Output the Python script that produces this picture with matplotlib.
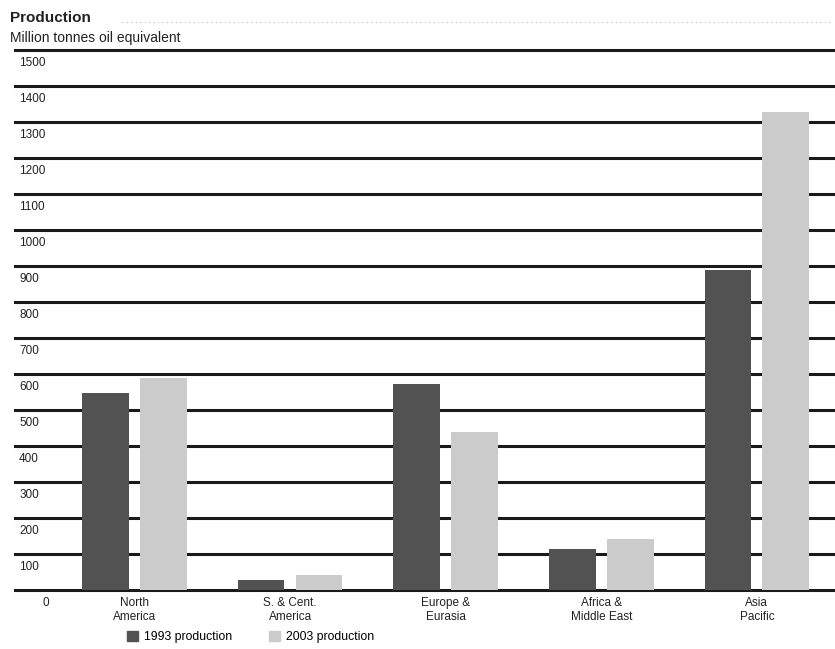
import matplotlib.pyplot as plt
from matplotlib.patches import Patch

plt.rcParams['font.family'] = ['Liberation Sans', 'DejaVu Sans']

# data (million tonnes oil equivalent)
regions = ["North\nAmerica", "S. & Cent.\nAmerica", "Europe &\nEurasia",
           "Africa &\nMiddle East", "Asia\nPacific"]
prod_1993 = [547, 28, 572, 114, 890]
prod_2003 = [589, 42, 439, 142, 1328]
yticks = list(range(0, 1600, 100))

dark = "#525252"
light = "#cbcbcb"

fig = plt.figure(figsize=(8.35, 6.49), dpi=100)
W, H = 835, 649
# axes: x from 15px to 835px, y from 590px (0) to 50px (1500)
ax = fig.add_axes([15 / W, (H - 590) / H, 820 / W, 540 / H])
ax.set_ylim(0, 1500)
ax.set_xlim(-0.768, 4.502)
ax.axis("off")

# horizontal rules with labels sitting just under them
for v in yticks:
    ax.axhline(v, color="#1a1a1a", lw=2.2, zorder=1, clip_on=False)
    ax.annotate(str(v), xy=(0, v), xycoords=("axes fraction", "data"),
                xytext=(3 if v else 20, -5), textcoords="offset points",
                ha="left", va="top", fontsize=8.5, color="#222222")

x = list(range(len(regions)))
off, w = 0.186, 0.30
ax.bar([i - off for i in x], prod_1993, width=w, color=dark, zorder=2)
ax.bar([i + off for i in x], prod_2003, width=w, color=light, zorder=2)

for i, lab in zip(x, regions):
    ax.annotate(lab, xy=(i, 0), xycoords="data", xytext=(0, -5),
                textcoords="offset points", ha="center", va="top",
                fontsize=8.5, color="#222222", linespacing=1.25)

# titles
fig.text(10 / W, 1 - 18 / H, "Production", fontsize=11, fontweight="bold",
         va="center", ha="left", color="#222222")
fig.text(10 / W, 1 - 38 / H, "Million tonnes oil equivalent", fontsize=10,
         va="center", ha="left", color="#222222")
fig.add_artist(plt.Line2D([122 / W, 830 / W], [1 - 22 / H, 1 - 22 / H],
                          color="#bbbbbb", lw=0.8, ls=(0, (1, 3))))

handles = [Patch(color=dark, label="1993 production"),
           Patch(color=light, label="2003 production")]
fig.legend(handles=handles, loc="center left", ncol=2, frameon=False,
           bbox_to_anchor=(116 / W, 1 - 637 / H), fontsize=8.8,
           handlelength=0.9, handleheight=0.9, handletextpad=0.5,
           columnspacing=3.0)

fig.savefig("out.png", dpi=100)
